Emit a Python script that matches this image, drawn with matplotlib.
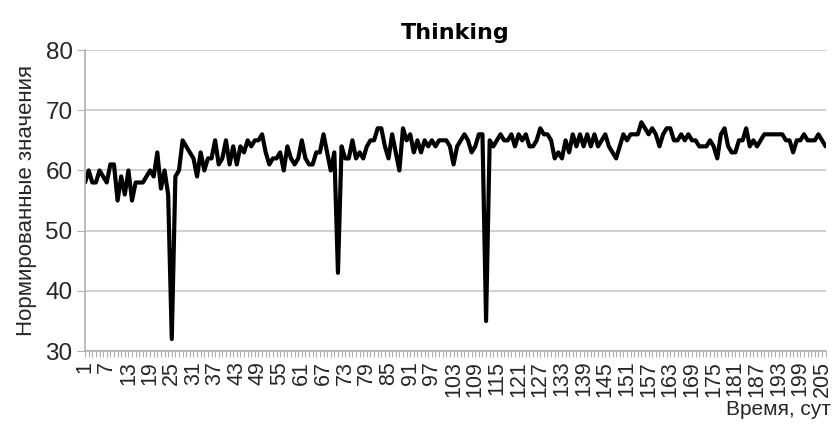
import numpy as np
import matplotlib
matplotlib.use("Agg")
from matplotlib import pyplot as plt
from matplotlib.ticker import FixedLocator, MultipleLocator

# нормированные значения по суткам (1..206)
values = [
    58, 60, 58, 58, 60, 59, 58, 61, 61, 55,
    59, 56, 60, 55, 58, 58, 58, 59, 60, 59,
    63, 57, 60, 56, 32, 59, 60, 65, 64, 63,
    62, 59, 63, 60, 62, 62, 65, 61, 62, 65,
    61, 64, 61, 64, 63, 65, 64, 65, 65, 66,
    63, 61, 62, 62, 63, 60, 64, 62, 61, 62,
    65, 62, 61, 61, 63, 63, 66, 63, 60, 63,
    43, 64, 62, 62, 65, 62, 63, 62, 64, 65,
    65, 67, 67, 64, 62, 66, 63, 60, 67, 65,
    66, 63, 65, 63, 65, 64, 65, 64, 65, 65,
    65, 64, 61, 64, 65, 66, 65, 63, 64, 66,
    66, 35, 65, 64, 65, 66, 65, 65, 66, 64,
    66, 65, 66, 64, 64, 65, 67, 66, 66, 65,
    62, 63, 62, 65, 63, 66, 64, 66, 64, 66,
    64, 66, 64, 65, 66, 64, 63, 62, 64, 66,
    65, 66, 66, 66, 68, 67, 66, 67, 66, 64,
    66, 67, 67, 65, 65, 66, 65, 66, 65, 65,
    64, 64, 64, 65, 64, 62, 66, 67, 64, 63,
    63, 65, 65, 67, 64, 65, 64, 65, 66, 66,
    66, 66, 66, 66, 65, 65, 63, 65, 65, 66,
    65, 65, 65, 66, 65, 64,
]
days = np.arange(1, len(values) + 1)
tick_days = list(range(1, len(values) + 1, 6))

plt.rcParams['font.family'] = ['Liberation Sans', 'DejaVu Sans']

fig = plt.figure(figsize=(8.34, 4.24), dpi=100)
ax = fig.add_axes([0.102, 0.172, 0.888, 0.710])

ax.plot(days, values, color="black", lw=3, solid_joinstyle="round",
        solid_capstyle="round")

ax.set_xlim(1, len(values))
ax.set_ylim(30, 80)
ax.yaxis.set_major_locator(MultipleLocator(10))
ax.grid(axis="y", color="#c8c8c8", lw=1.2)
ax.set_axisbelow(True)

ax.xaxis.set_major_locator(FixedLocator(tick_days))
ax.xaxis.set_minor_locator(MultipleLocator(1))
ax.set_xticklabels([str(d) for d in tick_days], rotation=90, fontsize=15.5,
                   color="#262626")
ax.tick_params(axis="x", which="both", length=4, color="#b0b0b0", width=0.8,
               pad=3)
ax.tick_params(axis="y", length=6, color="#b0b0b0", labelsize=17.5,
               labelcolor="#262626", pad=3)

for s in ["top", "right"]:
    ax.spines[s].set_visible(False)
for s in ["left", "bottom"]:
    ax.spines[s].set_color("#b0b0b0")
    ax.spines[s].set_linewidth(1.2)

ax.set_title("Thinking", fontsize=16, fontweight="bold",
             family="DejaVu Sans", pad=8)
ax.set_ylabel("Нормированные значения", fontsize=16, color="#262626",
              labelpad=6)
fig.text(0.996, 0.035, "Время, сут", fontsize=15, color="#262626",
         ha="right", va="center")

plt.savefig("out.png", dpi=100)
